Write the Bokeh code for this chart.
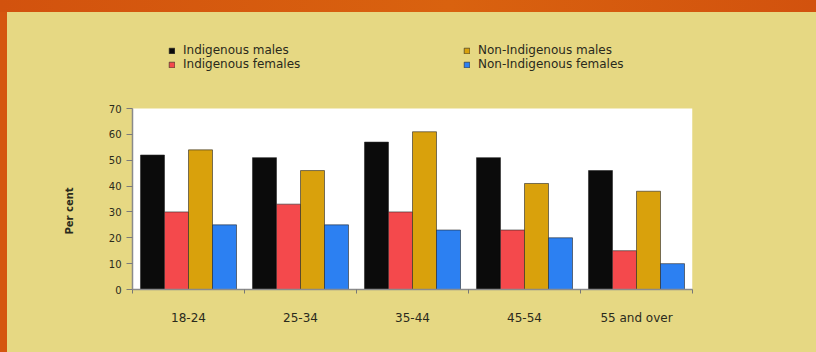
import numpy as np
from bokeh.plotting import figure
from bokeh.models import (Range1d, FixedTicker, LinearAxis, Legend, LegendItem, Div,
                          BoxAnnotation, Title)
from bokeh.layouts import column, row
from bokeh.embed import file_html
from bokeh.resources import INLINE

# ---- data ----
categories = ["18-24", "25-34", "35-44", "45-54", "55 and over"]
series_names = ["Indigenous males", "Indigenous females",
                "Non-Indigenous males", "Non-Indigenous females"]
indigenous_males = [52, 51, 57, 51, 46]
indigenous_females = [30, 33, 30, 23, 15]
non_indigenous_males = [54, 46, 61, 41, 38]
non_indigenous_females = [25, 25, 23, 20, 10]
y_ticks = [0, 10, 20, 30, 40, 50, 60, 70]
y_max = 70
y_title = "Per cent"

series_values = [indigenous_males, indigenous_females,
                 non_indigenous_males, non_indigenous_females]
colors = ["#0b0b0b", "#f4494c", "#d9a10c", "#2c80f2"]

TAN = "#e6d883"
ORANGE = "#d5560f"
TXT = "#2a2a1c"
FONT = "DejaVu Sans"

# plot-area geometry (pixels) ; frame extends above the white area to hold the legend
AREA_H = 181
FRAME_H = 249
y_top = y_max * FRAME_H / AREA_H

p = figure(width=809, height=340, output_backend="svg", toolbar_location=None,
           x_range=Range1d(0, len(categories)), y_range=Range1d(0, y_top),
           min_border_left=125, min_border_right=124,
           min_border_top=28, min_border_bottom=63,
           x_axis_type=None, y_axis_type=None)
p.styles = {"background-color": TAN}
p.background_fill_color = TAN
p.border_fill_color = TAN
p.outline_line_color = None

p.add_layout(BoxAnnotation(bottom=0, top=y_max, fill_color="white", fill_alpha=1,
                           line_color=None, level="underlay"))

bar_w = 0.2143
idx = np.arange(len(categories)) + 0.5
renderers = []
for k, (vals, col) in enumerate(zip(series_values, colors)):
    off = (k - 1.5) * bar_w
    r = p.vbar(x=idx + off, top=vals, width=bar_w, bottom=0,
               fill_color=col, line_color="#262626", line_width=0.6)
    renderers.append(r)

# x axis: labels at centres, small ticks at boundaries
xaxis = LinearAxis(ticker=FixedTicker(ticks=list(idx),
                                      minor_ticks=list(range(len(categories) + 1))))
xaxis.major_label_overrides = {float(v): c for v, c in zip(idx, categories)}
xaxis.major_tick_line_color = None
xaxis.major_tick_out = 0
xaxis.major_tick_in = 0
xaxis.minor_tick_out = 4
xaxis.minor_tick_in = 0
xaxis.minor_tick_line_color = "#777777"
xaxis.axis_line_color = "#8a8a8a"
xaxis.axis_line_width = 1.5
xaxis.major_label_standoff = 17
xaxis.major_label_text_font = FONT
xaxis.major_label_text_font_size = "12px"
xaxis.major_label_text_color = TXT
p.add_layout(xaxis, "below")

yaxis = LinearAxis(ticker=FixedTicker(ticks=y_ticks, minor_ticks=[]), bounds=(0, y_max))
yaxis.major_tick_out = 6
yaxis.major_tick_in = 0
yaxis.major_tick_line_color = "#7a7a7a"
yaxis.axis_line_color = "#8a8a8a"
yaxis.axis_line_width = 1.5
yaxis.major_label_standoff = 5
yaxis.major_label_text_font = FONT
yaxis.major_label_text_font_size = "10px"
yaxis.major_label_text_color = TXT
p.add_layout(yaxis, "left")

ytitle = Title(text=y_title, align="left", offset=55, standoff=61,
               text_font=FONT, text_font_style="bold", text_font_size="10px",
               text_color=TXT)
p.add_layout(ytitle, "left")

p.ygrid.ticker = FixedTicker(ticks=y_ticks)
p.ygrid.grid_line_color = "#4d4d4d"
p.ygrid.grid_line_width = 1.3
p.ygrid.level = "overlay"
p.xgrid.visible = False

def make_legend(items, loc):
    return Legend(items=items, location=loc, orientation="vertical",
                  background_fill_alpha=0, border_line_alpha=0,
                  padding=0, margin=0, spacing=-2,
                  glyph_width=7, glyph_height=7, label_height=12,
                  label_standoff=8,
                  label_text_font=FONT, label_text_font_size="12px",
                  label_text_color=TXT)

leg1 = make_legend([LegendItem(label=series_names[0], renderers=[renderers[0]]),
                    LegendItem(label=series_names[1], renderers=[renderers[1]])], (36, 218))
leg2 = make_legend([LegendItem(label=series_names[2], renderers=[renderers[2]]),
                    LegendItem(label=series_names[3], renderers=[renderers[3]])], (331, 218))
p.add_layout(leg1, "center")
p.add_layout(leg2, "center")

top_band = Div(width=816, height=12, margin=0,
               styles={"background": "linear-gradient(90deg,#d2520e,#d9620f 55%,#d2520e)"})
left_band = Div(width=7, height=340, margin=0, styles={"background": ORANGE})
layout = column(top_band, row(left_band, p, spacing=0), spacing=0)

open("out.html", "w").write(file_html(layout, INLINE))
